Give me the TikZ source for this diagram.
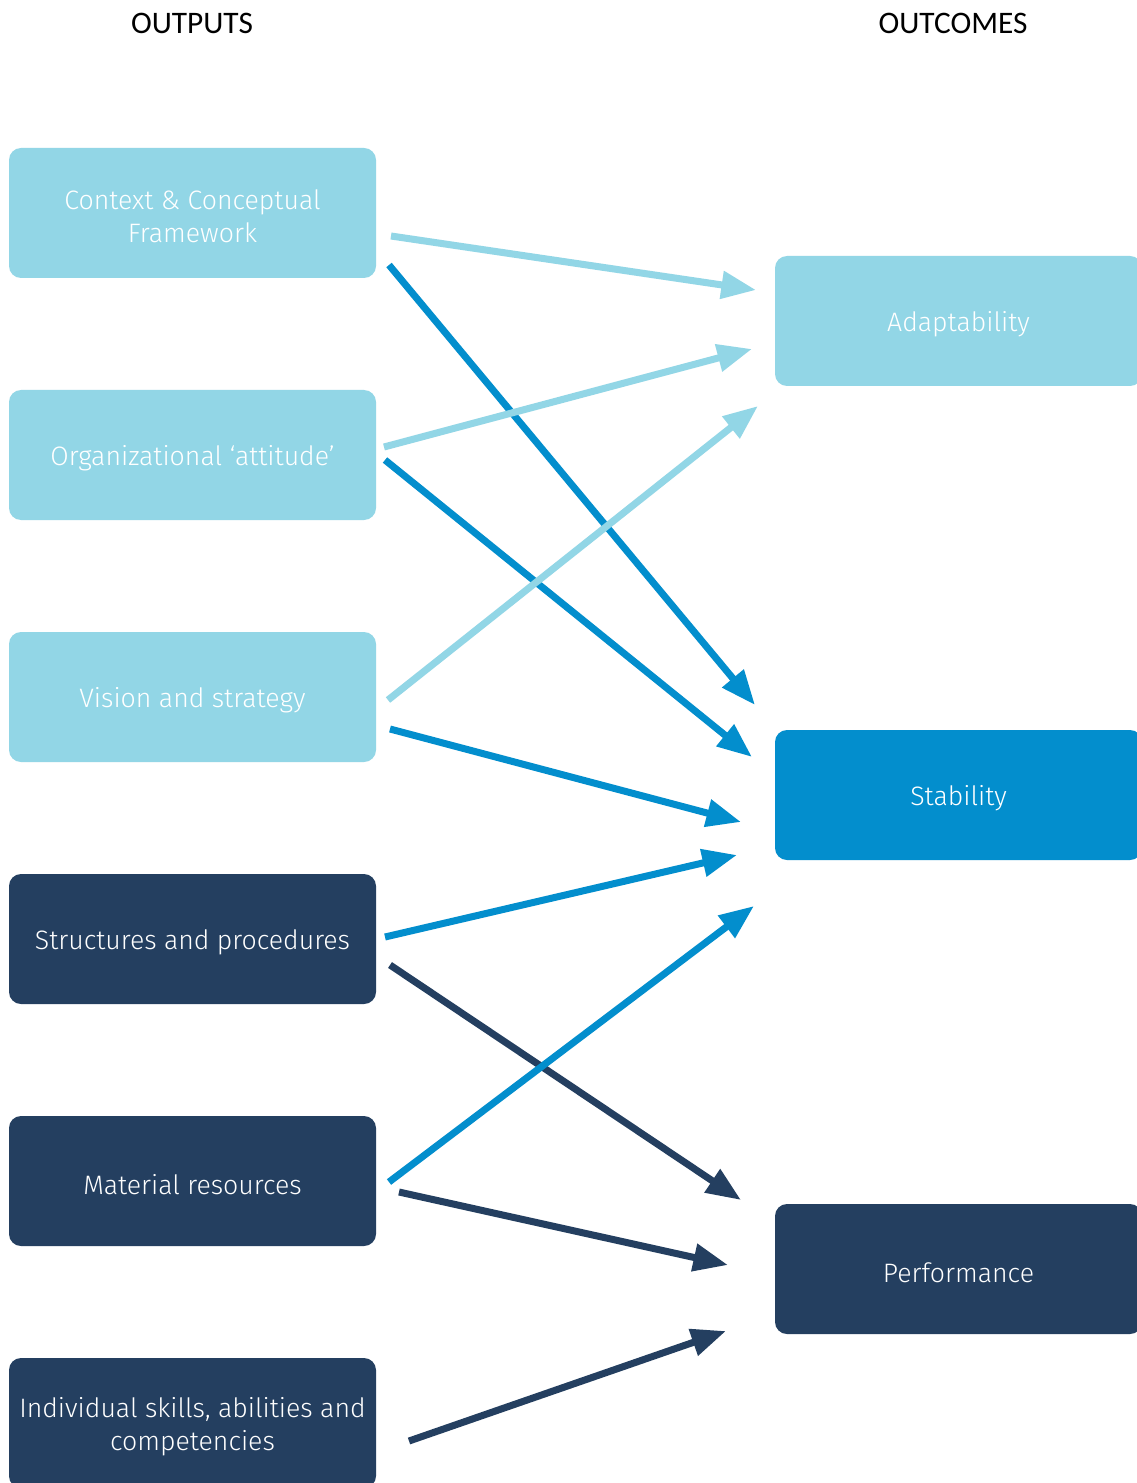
\documentclass[tikz,border=0pt]{standalone}
\usepackage{fontspec}
\usetikzlibrary{arrows.meta}
\newfontfamily\boxfont{Fira Sans Light}
\newfontfamily\headfont{Carlito}
\definecolor{lightblue}{RGB}{146,214,230}
\definecolor{midblue}{RGB}{3,142,205}
\definecolor{darkblue}{RGB}{36,63,96}
\begin{document}
\begin{tikzpicture}[x=0.75pt,y=-0.75pt,
  box/.style={rounded corners=9pt, minimum width=275.25pt, minimum height=97.5pt,
    inner sep=0pt,
    label={[align=center, text=white, inner sep=0pt, yshift=-2.5pt,
      font=\boxfont\fontsize{20pt}{24.75pt}\selectfont]center:{#1}}},
  lightbox/.style={box={#1}, fill=lightblue},
  midbox/.style={box={#1}, fill=midblue},
  darkbox/.style={box={#1}, fill=darkblue},
  head/.style={font=\headfont\fontsize{23.5pt}{26pt}\selectfont, text=black},
  link/.style={line width=5.25pt, -{Triangle[length=26pt,width=20pt]}},
  lightlink/.style={link, draw=lightblue},
  midlink/.style={link, draw=midblue},
  darklink/.style={link, draw=darkblue}]
\useasboundingbox (0,0) rectangle (1137,1483);
\fill[white] (0,0) rectangle (1137,1483);

% column headings
\node[head] (hout) at (192,23) {OUTPUTS};
\node[head] (hcome) at (953,23) {OUTCOMES};

% outputs
\node[lightbox={Context \& Conceptual\\Framework}] (ctx) at (192.5,213) {};
\node[lightbox={Organizational ‘attitude’}] (org) at (192.5,455) {};
\node[lightbox={Vision and strategy}] (vis) at (192.5,697) {};
\node[darkbox={Structures and procedures}] (str) at (192.5,939) {};
\node[darkbox={Material resources}] (mat) at (192.5,1181) {};
\node[darkbox={Individual skills, abilities and\\competencies}] (ind) at (192.5,1423) {};

% outcomes
\node[lightbox={Adaptability}] (ada) at (958.5,321) {};
\node[midbox={Stability}] (sta) at (958.5,795) {};
\node[darkbox={Performance}] (per) at (958.5,1269) {};

% connector ends beside the boxes
\coordinate (ctxA) at (391,236);  \coordinate (adaC) at (756,290);
\coordinate (ctxS) at (389,265);  \coordinate (staC) at (755,705);
\coordinate (orgA) at (384,447);  \coordinate (adaO) at (752,349);
\coordinate (orgS) at (385,460);  \coordinate (staO) at (752,757);
\coordinate (visA) at (388,700);  \coordinate (adaV) at (758,406);
\coordinate (visS) at (390,729);  \coordinate (staV) at (741,822);
\coordinate (strS) at (385,937);  \coordinate (staT) at (737,855);
\coordinate (strP) at (390,965);  \coordinate (perT) at (741,1200);
\coordinate (matS) at (389,1182); \coordinate (staM) at (754,906);
\coordinate (matP) at (399,1192); \coordinate (perM) at (728,1265);
\coordinate (indP) at (409,1441); \coordinate (perI) at (726,1331);

% connectors
\draw[lightlink] (ctxA) -- (adaC);
\draw[midlink] (ctxS) -- (staC);
\draw[lightlink] (orgA) -- (adaO);
\draw[midlink] (orgS) -- (staO);
\draw[lightlink] (visA) -- (adaV);
\draw[midlink] (visS) -- (staV);
\draw[midlink] (strS) -- (staT);
\draw[darklink] (strP) -- (perT);
\draw[midlink] (matS) -- (staM);
\draw[darklink] (matP) -- (perM);
\draw[darklink] (indP) -- (perI);
\end{tikzpicture}
\end{document}
